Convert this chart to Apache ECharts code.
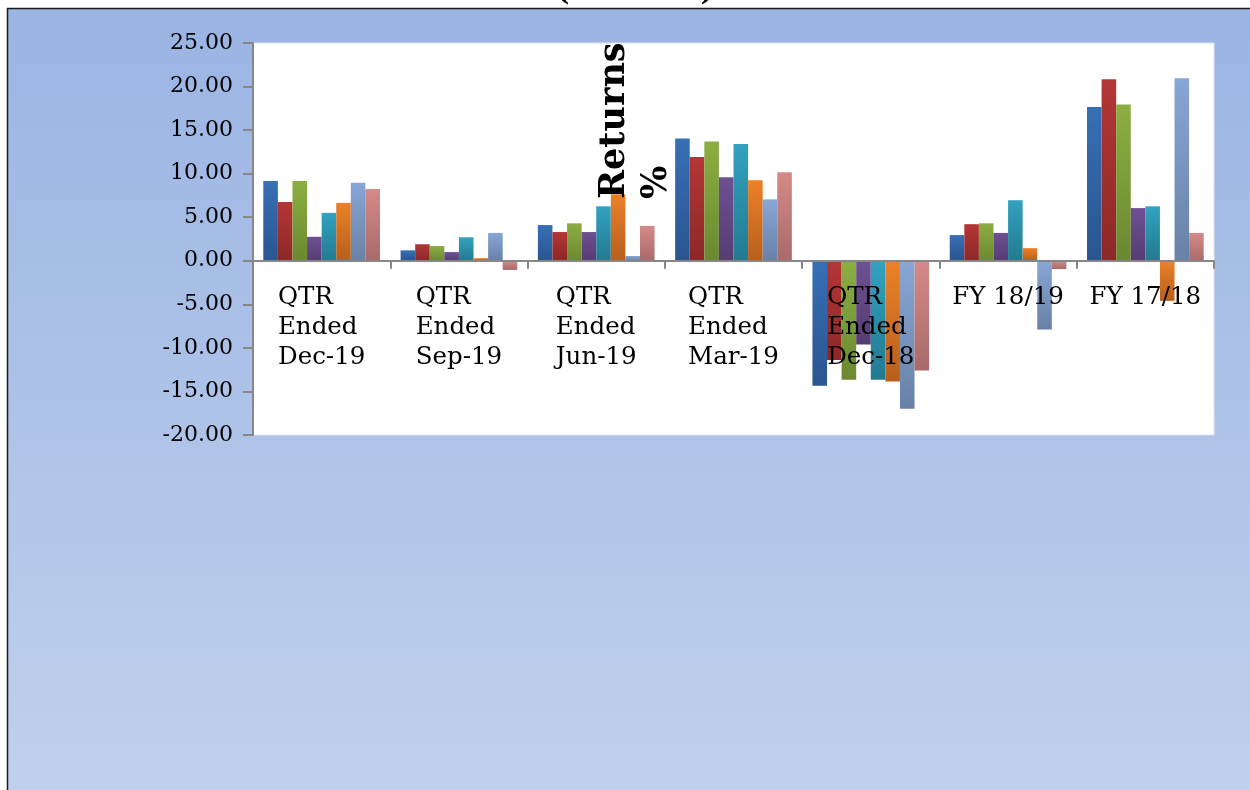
<!DOCTYPE html>
<html>
<head>
<meta charset="utf-8">
<title>Returns %</title>
<script src="https://cdn.jsdelivr.net/npm/echarts@6/dist/echarts.min.js"></script>
<style>
  html, body { margin: 0; padding: 0; background: #ffffff; }
  #chart { width: 1250px; height: 790px; }
</style>
</head>
<body>
<div id="chart"></div>
<script>
// Periods on the category axis
const periods = [
  'QTR\nEnded\nDec-19', 'QTR\nEnded\nSep-19', 'QTR\nEnded\nJun-19',
  'QTR\nEnded\nMar-19', 'QTR\nEnded\nDec-18', 'FY 18/19', 'FY 17/18'
];

// Returns (%) per series, one value per period
const returnsBlue   = [9.15, 1.20, 4.10, 14.05, -14.35, 2.95, 17.65];
const returnsRed    = [6.75, 1.90, 3.30, 11.90, -11.40, 4.20, 20.85];
const returnsGreen  = [9.15, 1.70, 4.30, 13.70, -13.65, 4.30, 17.95];
const returnsPurple = [2.75, 1.00, 3.30, 9.60, -9.60, 3.20, 6.05];
const returnsTeal   = [5.50, 2.70, 6.25, 13.40, -13.65, 6.95, 6.25];
const returnsOrange = [6.65, 0.30, 7.65, 9.25, -13.85, 1.45, -4.60];
const returnsSteel  = [8.95, 3.20, 0.55, 7.05, -17.00, -7.90, 20.95];
const returnsRose   = [8.25, -1.05, 4.00, 10.15, -12.60, -0.95, 3.20];

// Value axis range and step
const yMin = -20;
const yMax = 25;
const yStep = 5;

const seriesList = [
  { name: 'Series 1', data: returnsBlue,   top: '#376fb6', bottom: '#2a5590' },
  { name: 'Series 2', data: returnsRed,    top: '#b53636', bottom: '#8c2828' },
  { name: 'Series 3', data: returnsGreen,  top: '#8cae41', bottom: '#6a8931' },
  { name: 'Series 4', data: returnsPurple, top: '#6e5093', bottom: '#563d72' },
  { name: 'Series 5', data: returnsTeal,   top: '#32a2c0', bottom: '#237a90' },
  { name: 'Series 6', data: returnsOrange, top: '#ec8128', bottom: '#b75f1c' },
  { name: 'Series 7', data: returnsSteel,  top: '#88a6d6', bottom: '#6881a6' },
  { name: 'Series 8', data: returnsRose,   top: '#d58a89', bottom: '#a86a69' }
];

const serif = '"DejaVu Serif", "Liberation Serif", serif';

// Plot box, in pixels
const gridTop = 43;
const gridBottom = 355;
const plotHeight = 790 - gridTop - gridBottom;
// distance from the plot's bottom edge up to the zero line
const zeroLift = plotHeight * (0 - yMin) / (yMax - yMin);

const chart = echarts.init(document.getElementById('chart'), null, { renderer: 'canvas' });

chart.setOption({
  animation: false,
  backgroundColor: '#ffffff',
  graphic: [
    {
      // title line, mostly above the top edge of the page
      type: 'text',
      z: -30,
      x: 635,
      y: 7,
      style: {
        text: '(Per cent)',
        font: 'bold 28px ' + serif,
        fill: '#000000',
        align: 'center',
        verticalAlign: 'bottom'
      }
    },
    {
      // chart frame with the blue gradient fill
      type: 'rect',
      z: -20,
      shape: { x: 7.5, y: 8.5, width: 1260, height: 800 },
      style: {
        fill: new echarts.graphic.LinearGradient(0, 0, 0, 1, [
          { offset: 0, color: '#9ab4e3' },
          { offset: 1, color: '#c1d1ec' }
        ]),
        stroke: '#1a1a1a',
        lineWidth: 1.5
      }
    },
    {
      // value-axis title, rotated to read upward
      type: 'text',
      z: 100,
      x: 594,
      y: 199,
      rotation: Math.PI / 2,
      style: {
        text: 'Returns\n%',
        font: 'bold 35px ' + serif,
        fill: '#000000',
        align: 'left',
        verticalAlign: 'top',
        lineHeight: 42
      }
    }
  ],
  grid: {
    left: 253,
    right: 36,
    top: gridTop,
    bottom: gridBottom,
    show: true,
    backgroundColor: '#ffffff',
    borderColor: '#dbe3f3',
    borderWidth: 1
  },
  xAxis: {
    type: 'category',
    data: periods,
    z: 5,
    boundaryGap: true,
    offset: -zeroLift,
    axisLine: { show: true, onZero: false, lineStyle: { color: '#878787', width: 2 } },
    axisTick: { show: true, length: 8, lineStyle: { color: '#878787', width: 2 } },
    axisLabel: {
      interval: 0,
      margin: 22,
      align: 'center',
      verticalAlign: 'top',
      formatter: function (v) {
        return v.split('\n').map(function (line) { return '{c|' + line + '}'; }).join('\n');
      },
      rich: {
        c: {
          align: 'left',
          fontFamily: serif,
          fontSize: 24.5,
          lineHeight: 30,
          color: '#000000'
        }
      }
    },
    splitLine: { show: false }
  },
  yAxis: {
    type: 'value',
    min: yMin,
    max: yMax,
    interval: yStep,
    axisLine: { show: true, lineStyle: { color: '#878787', width: 2 } },
    axisTick: { show: true, length: 10, lineStyle: { color: '#878787', width: 2 } },
    axisLabel: {
      margin: 20,
      fontFamily: serif,
      fontSize: 22,
      color: '#000000',
      formatter: function (v) { return v.toFixed(2); }
    },
    splitLine: { show: false }
  },
  series: seriesList.map(function (s) {
    return {
      name: s.name,
      type: 'bar',
      data: s.data,
      barGap: '0%',
      barCategoryGap: '15%',
      itemStyle: {
        color: new echarts.graphic.LinearGradient(0, 0, 0, 1, [
          { offset: 0, color: s.top },
          { offset: 1, color: s.bottom }
        ])
      }
    };
  })
});
</script>
</body>
</html>
